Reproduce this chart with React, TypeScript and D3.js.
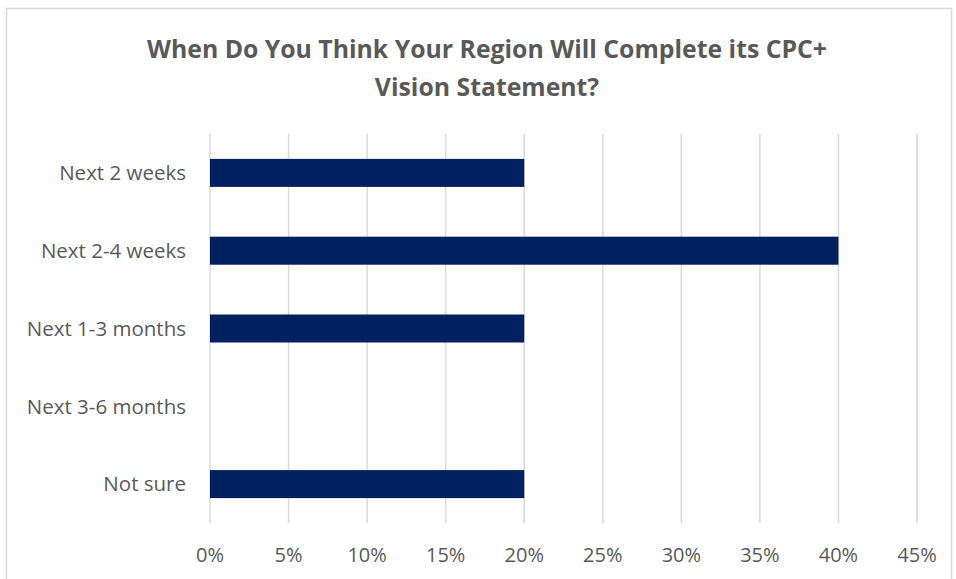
import React from "react";
import * as d3 from "d3";

const categories = ["Next 2 weeks", "Next 2-4 weeks", "Next 1-3 months", "Next 3-6 months", "Not sure"];
const values = [0.2, 0.4, 0.2, 0, 0.2];
const ticks = [0, 0.05, 0.1, 0.15, 0.2, 0.25, 0.3, 0.35, 0.4, 0.45];
const titleLines = ["When Do You Think Your Region Will Complete its CPC+", "Vision Statement?"];

const W = 956, H = 579;
const plot = { left: 210, right: 917, top: 134, bottom: 523 };
const font = "'Open Sans', sans-serif";

export default function App() {
  const x = d3.scaleLinear().domain([0, 0.45]).range([plot.left, plot.right]);
  const y = d3.scaleBand().domain(categories).range([plot.top, plot.bottom]).paddingInner(0.64).paddingOuter(0.32);
  const fmt = d3.format(".0%");
  return (
    <svg width={W} height={H} style={{ position: "absolute", left: 0, top: 0, background: "#fff" }}>
      <rect x={6.5} y={8.5} width={945} height={590} fill="#fff" stroke="#d9d9d9" strokeWidth={1.5} />
      {titleLines.map((t, i) => (
        <text key={i} x={487} y={58 + i * 38} textAnchor="middle" fontFamily={font} fontWeight="bold" fontSize={24.8} fill="#595959">{t}</text>
      ))}
      {ticks.map((t) => (
        <line key={t} x1={x(t)} x2={x(t)} y1={plot.top} y2={plot.bottom} stroke="#d9d9d9" strokeWidth={1.5} />
      ))}
      {categories.map((c, i) => (
        <rect key={c} x={x(0)} y={y(c)} width={x(values[i]) - x(0)} height={y.bandwidth()} fill="#002060" />
      ))}
      {categories.map((c) => (
        <text key={c} x={186} y={(y(c) as number) + y.bandwidth() / 2} dy="0.36em" textAnchor="end" fontFamily={font} fontSize={20.5} fill="#595959">{c}</text>
      ))}
      {ticks.map((t) => (
        <text key={t} x={x(t)} y={562} textAnchor="middle" fontFamily={font} fontSize={20} fill="#595959">{fmt(t)}</text>
      ))}
    </svg>
  );
}
